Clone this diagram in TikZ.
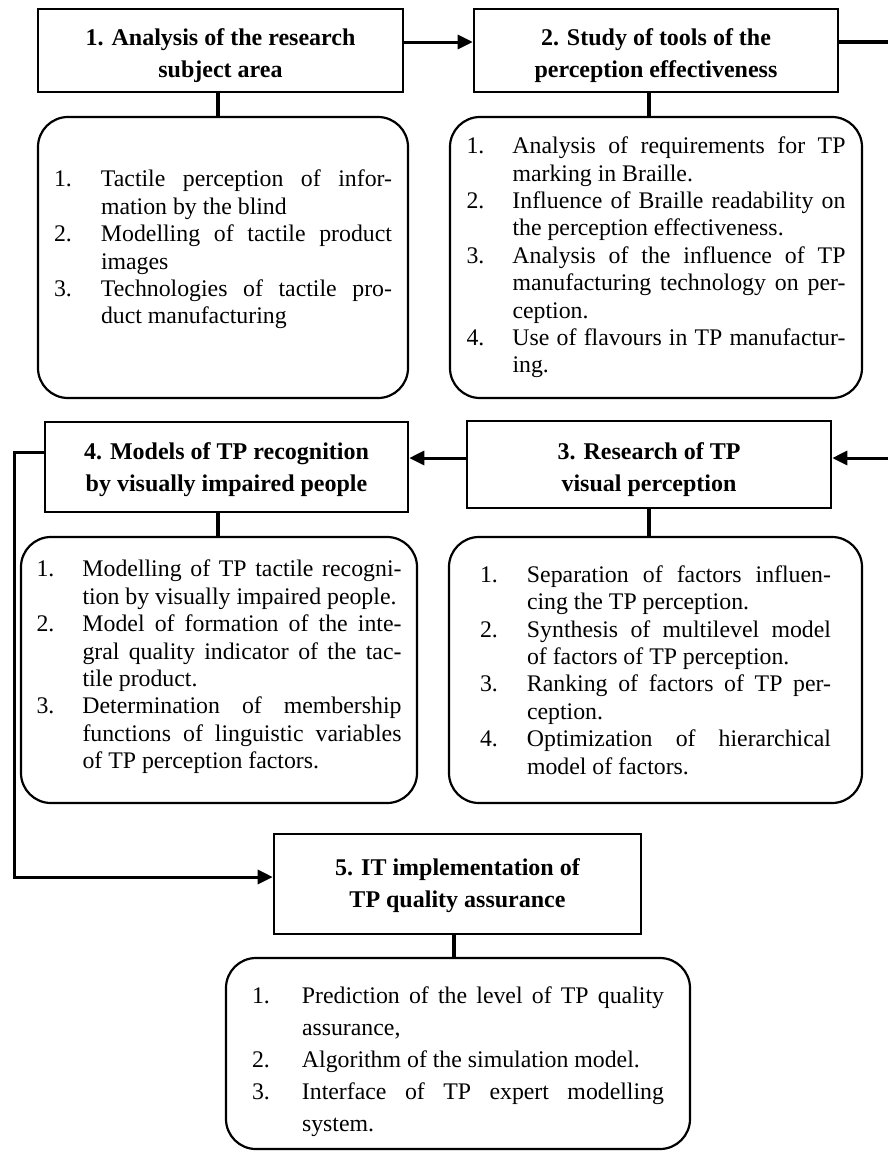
\documentclass[tikz,border=0pt]{standalone}
\usepackage{fontspec}
\setmainfont{Liberation Serif}
\usetikzlibrary{arrows.meta}
\newlength\tw \newlength\nw
\newcommand\NS[2]{\hbox to \tw{\hbox to \nw{#1\hfil}\makebox[\dimexpr\tw-\nw\relax][s]{#2}}}
\newcommand\NL[2]{\hbox to \tw{\hbox to \nw{#1\hfil}#2\hfil}}
\newcommand\CS[1]{\hbox to \tw{\hskip\nw\makebox[\dimexpr\tw-\nw\relax][s]{#1}}}
\newcommand\CL[1]{\hbox to \tw{\hskip\nw #1\hfil}}
\newcommand\PadBottom[1]{\par\vspace*{#1}\hrule height 0pt}
\newcommand\Up[1]{\rule{0pt}{#1}}
\tikzset{
  head/.style={draw, line width=2.6pt, inner sep=0pt, align=center,
    font=\bfseries\fontsize{24}{32}\selectfont},
  body/.style={draw, line width=2.2pt, rounded corners=30pt, inner sep=0pt,
    font=\fontsize{23.8}{27.4}\selectfont},
  conn/.style={line width=3.5pt},
  arr/.style={line width=3pt, line join=miter, -{Triangle[length=15pt,width=14pt]}}
}
\begin{document}
\begin{tikzpicture}[x=1pt,y=-1pt]
\useasboundingbox (0,0) rectangle (887,1151);
% headers
\node[head, minimum width=365pt, minimum height=83pt] (h1) at (220.5,50.5)
  {\Up{27pt}1. Analysis of the research\\subject area};
\node[head, minimum width=364pt, minimum height=83pt] (h2) at (656,50.5)
  {\Up{27pt}2. Study of tools of the\\perception effectiveness};
\node[head, minimum width=364pt, minimum height=87pt] (h3) at (649,464.5)
  {\Up{27pt}3. Research of TP\\visual perception};
\node[head, minimum width=363pt, minimum height=90pt] (h4) at (226.5,467)
  {\Up{22pt}4. Models of TP recognition\\by visually impaired people};
\node[head, minimum width=367pt, minimum height=100pt] (h5) at (457.5,884)
  {\Up{20pt}5. IT implementation of\\TP quality assurance};
% bodies
\node[body, minimum width=370pt, minimum height=281pt] (r1) at (223,257.5)
  {\setlength\tw{338pt}\setlength\nw{47pt}\begin{minipage}{\tw}
   \NS{1.}{Tactile perception of infor-}
   \CL{mation by the blind}
   \NS{2.}{Modelling of tactile product}
   \CL{images}
   \NS{3.}{Technologies of tactile pro-}
   \CL{duct manufacturing}
   \PadBottom{16pt}
   \end{minipage}};
\node[body, minimum width=412pt, minimum height=281pt] (r2) at (656,257.5)
  {\setlength\tw{379pt}\setlength\nw{46pt}\begin{minipage}{\tw}
   \NS{1.}{Analysis of requirements for TP}
   \CL{marking in Braille.}
   \NS{2.}{Influence of Braille readability on}
   \CL{the perception effectiveness.}
   \NS{3.}{Analysis of the influence of TP}
   \CS{manufacturing technology on per-}
   \CL{ception.}
   \NS{4.}{Use of flavours in TP manufactur-}
   \CL{ing.}
   \end{minipage}};
\node[body, minimum width=396pt, minimum height=266pt] (r4) at (219,670)
  {\setlength\tw{365pt}\setlength\nw{46pt}\begin{minipage}{\tw}
   \NS{1.}{Modelling of TP tactile recogni-}
   \CL{tion by visually impaired people.}
   \NS{2.}{Model of formation of the inte-}
   \CS{gral quality indicator of the tac-}
   \CL{tile product.}
   \NS{3.}{Determination of membership}
   \CS{functions of linguistic variables}
   \CL{of TP perception factors.}
   \PadBottom{6pt}
   \end{minipage}};
\node[body, minimum width=413pt, minimum height=266pt] (r3) at (655.5,670)
  {\setlength\tw{351pt}\setlength\nw{47pt}\begin{minipage}{\tw}
   \NS{1.}{Separation of factors influen-}
   \CL{cing the TP perception.}
   \NS{2.}{Synthesis of multilevel model}
   \CL{of factors of TP perception.}
   \NS{3.}{Ranking of factors of TP per-}
   \CL{ception.}
   \NS{4.}{Optimization of hierarchical}
   \CL{model of factors.}
   \end{minipage}};
\node[body, minimum width=464pt, minimum height=191pt] (r5) at (458,1053.5)
  {\setlength\tw{412pt}\setlength\nw{50pt}\begin{minipage}{\tw}
   \fontsize{23.8}{32}\selectfont
   \vspace*{16pt}
   \NS{1.}{Prediction of the level of TP quality}
   \CL{assurance,}
   \NL{2.}{Algorithm of the simulation model.}
   \NS{3.}{Interface of TP expert modelling}
   \CL{system.}
   \end{minipage}};
% vertical connectors
\draw[conn] ([xshift=-2.5pt]h1.south) -- ([xshift=-2.5pt]h1.south |- r1.north);
\draw[conn] ([xshift=-7pt]h2.south) -- ([xshift=-7pt]h2.south |- r2.north);
\draw[conn] (h3.south) -- (h3.south |- r3.north);
\draw[conn] ([xshift=-8.5pt]h4.south) -- ([xshift=-8.5pt]h4.south |- r4.north);
\draw[conn] ([xshift=-3.5pt]h5.south) -- ([xshift=-3.5pt]h5.south |- r5.north);
% flow arrows
\coordinate (rt) at (890,42);
\coordinate (rb) at (890,458);
\coordinate (lc) at (14,452);
\coordinate (lb) at (14,877);
\draw[arr] (h1.east |- 0,42) -- (h2.west |- 0,42);
\draw[conn] (h2.east |- rt) -- (rt);
\draw[arr] (rb) -- (h3.east |- rb);
\draw[arr] (h3.west |- 0,458) -- (h4.east |- 0,458);
\draw[arr] (h4.west |- lc) -- (lc) -- (lb) -- (h5.west |- lb);
\end{tikzpicture}
\end{document}
